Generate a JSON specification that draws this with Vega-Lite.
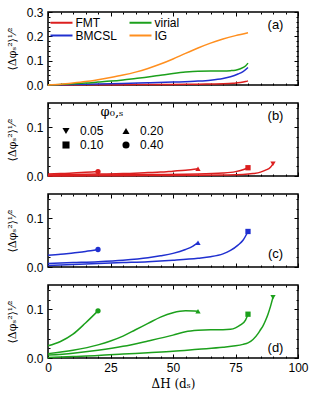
{
  "$schema": "https://vega.github.io/schema/vega-lite/v6.json",
  "padding": 5,
  "spacing": 9,
  "datasets": {
    "a": [
      {"m":"FMT","x":0,"y":0},{"m":"FMT","x":10,"y":0.0005},{"m":"FMT","x":20,"y":0.001},{"m":"FMT","x":30,"y":0.0015},{"m":"FMT","x":40,"y":0.002},{"m":"FMT","x":50,"y":0.0025},{"m":"FMT","x":60,"y":0.003},{"m":"FMT","x":65,"y":0.004},{"m":"FMT","x":70,"y":0.005},{"m":"FMT","x":74,"y":0.007},{"m":"FMT","x":77,"y":0.010},{"m":"FMT","x":79,"y":0.014},{"m":"FMT","x":80,"y":0.017},
      {"m":"BMCSL","x":0,"y":0},{"m":"BMCSL","x":10,"y":0.002},{"m":"BMCSL","x":20,"y":0.004},{"m":"BMCSL","x":30,"y":0.006},{"m":"BMCSL","x":40,"y":0.009},{"m":"BMCSL","x":50,"y":0.012},{"m":"BMCSL","x":60,"y":0.016},{"m":"BMCSL","x":65,"y":0.020},{"m":"BMCSL","x":70,"y":0.027},{"m":"BMCSL","x":73,"y":0.034},{"m":"BMCSL","x":76,"y":0.045},{"m":"BMCSL","x":78,"y":0.055},{"m":"BMCSL","x":80,"y":0.072},
      {"m":"virial","x":0,"y":0.001},{"m":"virial","x":5,"y":0.002},{"m":"virial","x":10,"y":0.005},{"m":"virial","x":15,"y":0.008},{"m":"virial","x":20,"y":0.012},{"m":"virial","x":25,"y":0.016},{"m":"virial","x":30,"y":0.021},{"m":"virial","x":35,"y":0.027},{"m":"virial","x":40,"y":0.033},{"m":"virial","x":45,"y":0.040},{"m":"virial","x":50,"y":0.047},{"m":"virial","x":55,"y":0.053},{"m":"virial","x":60,"y":0.057},{"m":"virial","x":65,"y":0.058},{"m":"virial","x":70,"y":0.058},{"m":"virial","x":73,"y":0.059},{"m":"virial","x":75,"y":0.061},{"m":"virial","x":77,"y":0.067},{"m":"virial","x":79,"y":0.078},{"m":"virial","x":80,"y":0.09},
      {"m":"IG","x":0,"y":0},{"m":"IG","x":5,"y":0.003},{"m":"IG","x":10,"y":0.008},{"m":"IG","x":15,"y":0.014},{"m":"IG","x":20,"y":0.022},{"m":"IG","x":25,"y":0.031},{"m":"IG","x":30,"y":0.041},{"m":"IG","x":35,"y":0.053},{"m":"IG","x":40,"y":0.068},{"m":"IG","x":45,"y":0.086},{"m":"IG","x":50,"y":0.107},{"m":"IG","x":55,"y":0.130},{"m":"IG","x":60,"y":0.152},{"m":"IG","x":65,"y":0.172},{"m":"IG","x":70,"y":0.189},{"m":"IG","x":75,"y":0.203},{"m":"IG","x":80,"y":0.215}
    ],
    "b": [
      {"m":"FMT","phi":"0.40","x":0,"y":0.004},{"m":"FMT","phi":"0.40","x":5,"y":0.005},{"m":"FMT","phi":"0.40","x":10,"y":0.006},{"m":"FMT","phi":"0.40","x":15,"y":0.0075},{"m":"FMT","phi":"0.40","x":20,"y":0.009},
      {"m":"FMT","phi":"0.20","x":0,"y":0.002},{"m":"FMT","phi":"0.20","x":10,"y":0.003},{"m":"FMT","phi":"0.20","x":20,"y":0.004},{"m":"FMT","phi":"0.20","x":30,"y":0.005},{"m":"FMT","phi":"0.20","x":40,"y":0.007},{"m":"FMT","phi":"0.20","x":45,"y":0.008},{"m":"FMT","phi":"0.20","x":50,"y":0.010},{"m":"FMT","phi":"0.20","x":55,"y":0.012},{"m":"FMT","phi":"0.20","x":60,"y":0.015},
      {"m":"FMT","phi":"0.10","x":0,"y":0.001},{"m":"FMT","phi":"0.10","x":20,"y":0.002},{"m":"FMT","phi":"0.10","x":40,"y":0.003},{"m":"FMT","phi":"0.10","x":60,"y":0.004},{"m":"FMT","phi":"0.10","x":70,"y":0.006},{"m":"FMT","phi":"0.10","x":75,"y":0.009},{"m":"FMT","phi":"0.10","x":78,"y":0.013},{"m":"FMT","phi":"0.10","x":80,"y":0.017},
      {"m":"FMT","phi":"0.05","x":0,"y":0},{"m":"FMT","phi":"0.05","x":20,"y":0.0005},{"m":"FMT","phi":"0.05","x":40,"y":0.001},{"m":"FMT","phi":"0.05","x":60,"y":0.0015},{"m":"FMT","phi":"0.05","x":70,"y":0.002},{"m":"FMT","phi":"0.05","x":78,"y":0.003},{"m":"FMT","phi":"0.05","x":82,"y":0.005},{"m":"FMT","phi":"0.05","x":85,"y":0.008},{"m":"FMT","phi":"0.05","x":87,"y":0.012},{"m":"FMT","phi":"0.05","x":89,"y":0.018},{"m":"FMT","phi":"0.05","x":90,"y":0.025}
    ],
    "c": [
      {"m":"BMCSL","phi":"0.40","x":0,"y":0.024},{"m":"BMCSL","phi":"0.40","x":5,"y":0.026},{"m":"BMCSL","phi":"0.40","x":10,"y":0.029},{"m":"BMCSL","phi":"0.40","x":15,"y":0.032},{"m":"BMCSL","phi":"0.40","x":20,"y":0.036},
      {"m":"BMCSL","phi":"0.20","x":0,"y":0.007},{"m":"BMCSL","phi":"0.20","x":10,"y":0.009},{"m":"BMCSL","phi":"0.20","x":20,"y":0.011},{"m":"BMCSL","phi":"0.20","x":30,"y":0.014},{"m":"BMCSL","phi":"0.20","x":40,"y":0.019},{"m":"BMCSL","phi":"0.20","x":45,"y":0.023},{"m":"BMCSL","phi":"0.20","x":50,"y":0.028},{"m":"BMCSL","phi":"0.20","x":55,"y":0.036},{"m":"BMCSL","phi":"0.20","x":58,"y":0.043},{"m":"BMCSL","phi":"0.20","x":60,"y":0.050},
      {"m":"BMCSL","phi":"0.10","x":0,"y":0.003},{"m":"BMCSL","phi":"0.10","x":10,"y":0.005},{"m":"BMCSL","phi":"0.10","x":20,"y":0.007},{"m":"BMCSL","phi":"0.10","x":30,"y":0.009},{"m":"BMCSL","phi":"0.10","x":40,"y":0.011},{"m":"BMCSL","phi":"0.10","x":50,"y":0.014},{"m":"BMCSL","phi":"0.10","x":60,"y":0.018},{"m":"BMCSL","phi":"0.10","x":65,"y":0.021},{"m":"BMCSL","phi":"0.10","x":70,"y":0.027},{"m":"BMCSL","phi":"0.10","x":73,"y":0.034},{"m":"BMCSL","phi":"0.10","x":76,"y":0.045},{"m":"BMCSL","phi":"0.10","x":78,"y":0.055},{"m":"BMCSL","phi":"0.10","x":80,"y":0.073}
    ],
    "d": [
      {"m":"virial","phi":"0.40","x":0,"y":0.025},{"m":"virial","phi":"0.40","x":5,"y":0.034},{"m":"virial","phi":"0.40","x":10,"y":0.049},{"m":"virial","phi":"0.40","x":15,"y":0.072},{"m":"virial","phi":"0.40","x":20,"y":0.097},
      {"m":"virial","phi":"0.20","x":0,"y":0.009},{"m":"virial","phi":"0.20","x":10,"y":0.016},{"m":"virial","phi":"0.20","x":20,"y":0.027},{"m":"virial","phi":"0.20","x":25,"y":0.035},{"m":"virial","phi":"0.20","x":30,"y":0.045},{"m":"virial","phi":"0.20","x":35,"y":0.058},{"m":"virial","phi":"0.20","x":40,"y":0.071},{"m":"virial","phi":"0.20","x":45,"y":0.084},{"m":"virial","phi":"0.20","x":50,"y":0.093},{"m":"virial","phi":"0.20","x":55,"y":0.097},{"m":"virial","phi":"0.20","x":60,"y":0.096},
      {"m":"virial","phi":"0.10","x":0,"y":0.006},{"m":"virial","phi":"0.10","x":10,"y":0.010},{"m":"virial","phi":"0.10","x":20,"y":0.016},{"m":"virial","phi":"0.10","x":30,"y":0.024},{"m":"virial","phi":"0.10","x":40,"y":0.035},{"m":"virial","phi":"0.10","x":50,"y":0.047},{"m":"virial","phi":"0.10","x":55,"y":0.054},{"m":"virial","phi":"0.10","x":60,"y":0.057},{"m":"virial","phi":"0.10","x":65,"y":0.058},{"m":"virial","phi":"0.10","x":70,"y":0.058},{"m":"virial","phi":"0.10","x":73,"y":0.059},{"m":"virial","phi":"0.10","x":75,"y":0.062},{"m":"virial","phi":"0.10","x":77,"y":0.068},{"m":"virial","phi":"0.10","x":79,"y":0.078},{"m":"virial","phi":"0.10","x":80,"y":0.090},
      {"m":"virial","phi":"0.05","x":0,"y":0.001},{"m":"virial","phi":"0.05","x":10,"y":0.003},{"m":"virial","phi":"0.05","x":20,"y":0.005},{"m":"virial","phi":"0.05","x":30,"y":0.008},{"m":"virial","phi":"0.05","x":40,"y":0.011},{"m":"virial","phi":"0.05","x":50,"y":0.014},{"m":"virial","phi":"0.05","x":60,"y":0.018},{"m":"virial","phi":"0.05","x":70,"y":0.022},{"m":"virial","phi":"0.05","x":75,"y":0.025},{"m":"virial","phi":"0.05","x":78,"y":0.028},{"m":"virial","phi":"0.05","x":80,"y":0.031},{"m":"virial","phi":"0.05","x":82,"y":0.038},{"m":"virial","phi":"0.05","x":84,"y":0.050},{"m":"virial","phi":"0.05","x":85,"y":0.058},{"m":"virial","phi":"0.05","x":86,"y":0.066},{"m":"virial","phi":"0.05","x":87,"y":0.077},{"m":"virial","phi":"0.05","x":88,"y":0.090},{"m":"virial","phi":"0.05","x":89,"y":0.106},{"m":"virial","phi":"0.05","x":90,"y":0.125}
    ]
  },
  "vconcat": [
    {
      "width": 250, "height": 73,
      "data": {"name": "a"},
      "layer": [
        {
          "mark": {"type": "line", "strokeWidth": 1.5, "interpolate": "monotone"},
          "encoding": {
            "x": {"field": "x", "type": "quantitative", "scale": {"domain": [0, 100], "nice": false}, "axis": {"orient": "bottom", "values": [0, 25, 50, 75, 100], "tickSize": -4, "labels": false, "title": null}},
            "y": {"field": "y", "type": "quantitative", "scale": {"domain": [0, 0.3], "nice": false}, "axis": {"orient": "left", "values": [0, 0.1, 0.2, 0.3], "tickSize": -4, "labelPadding": 9, "format": ".1f", "labelFlush": false, "title": "⟨Δφₛ²⟩¹⁄²", "titlePadding": 9}},
            "color": {"field": "m", "type": "nominal", "scale": {"domain": ["FMT", "BMCSL", "virial", "IG"], "range": ["#dc1f1f", "#2030d0", "#1ca01c", "#ff8f1f"]},
              "legend": {"orient": "none", "legendX": 7, "legendY": 4, "columns": 2, "title": null, "symbolType": "M-2,0H2", "symbolSize": 121, "symbolStrokeWidth": 2, "labelFontSize": 12, "labelFont": "Liberation Sans", "labelOffset": 7.5, "rowPadding": 0, "columnPadding": 8}}
          }
        },
        {
          "mark": {"type": "point", "opacity": 0},
          "encoding": {
            "x": {"field": "x", "type": "quantitative", "axis": {"orient": "bottom", "values": [5,10,15,20,30,35,40,45,55,60,65,70,80,85,90,95], "tickSize": -2, "labels": false, "title": null}},
            "y": {"field": "y", "type": "quantitative", "axis": {"orient": "left", "values": [0.02,0.04,0.06,0.08,0.12,0.14,0.16,0.18,0.22,0.24,0.26,0.28], "tickSize": -2, "labels": false, "title": null}}
          }
        },
        {
          "mark": {"type": "point", "opacity": 0},
          "encoding": {
            "x": {"field": "x", "type": "quantitative", "axis": {"orient": "top", "values": [0, 25, 50, 75, 100], "tickSize": -4, "labels": false, "title": null}},
            "y": {"field": "y", "type": "quantitative", "axis": {"orient": "right", "values": [0, 0.1, 0.2, 0.3], "tickSize": -4, "labels": false, "title": null}}
          }
        },
        {
          "mark": {"type": "point", "opacity": 0},
          "encoding": {
            "x": {"field": "x", "type": "quantitative", "axis": {"orient": "top", "values": [5,10,15,20,30,35,40,45,55,60,65,70,80,85,90,95], "tickSize": -2, "labels": false, "title": null}},
            "y": {"field": "y", "type": "quantitative", "axis": {"orient": "right", "values": [0.02,0.04,0.06,0.08,0.12,0.14,0.16,0.18,0.22,0.24,0.26,0.28], "tickSize": -2, "labels": false, "title": null}}
          }
        },
        {
          "data": {"values": [{}]},
          "mark": {"type": "text", "text": "(a)", "font": "Liberation Sans", "fontSize": 13, "color": "black"},
          "encoding": {
            "x": {"datum": 91, "type": "quantitative", "axis": null},
            "y": {"datum": 0.246, "type": "quantitative", "axis": null}
          }
        }
      ],
      "resolve": {"axis": {"x": "independent", "y": "independent"}}
    },
    {
      "width": 250, "height": 73,
      "data": {"name": "b"},
      "layer": [
        {
          "mark": {"type": "line", "strokeWidth": 1.5, "interpolate": "monotone"},
          "encoding": {
            "x": {"field": "x", "type": "quantitative", "scale": {"domain": [0, 100], "nice": false}, "axis": {"orient": "bottom", "values": [0, 25, 50, 75, 100], "tickSize": -4, "labels": false, "title": null}},
            "y": {"field": "y", "type": "quantitative", "scale": {"domain": [0, 0.15], "nice": false}, "axis": {"orient": "left", "values": [0, 0.1], "tickSize": -4, "labelPadding": 9, "format": ".1f", "labelFlush": false, "title": "⟨Δφₛ²⟩¹⁄²", "titlePadding": 9}},
            "color": {"field": "m", "type": "nominal", "scale": {"range": ["#dc1f1f"]}, "legend": null},
            "detail": {"field": "phi"}
          }
        },
        {
          "transform": [{"joinaggregate": [{"op": "max", "field": "x", "as": "xmax"}], "groupby": ["phi"]}, {"filter": "datum.x === datum.xmax"}],
          "mark": {"type": "point", "filled": true, "opacity": 1, "size": 28},
          "encoding": {
            "x": {"field": "x", "type": "quantitative", "axis": {"orient": "top", "values": [0, 25, 50, 75, 100], "tickSize": -4, "labels": false, "title": null}},
            "y": {"field": "y", "type": "quantitative", "axis": {"orient": "right", "values": [0, 0.1], "tickSize": -4, "labels": false, "title": null}},
            "color": {"field": "m", "type": "nominal", "legend": null},
            "shape": {"field": "phi", "type": "nominal", "scale": {"domain": ["0.05", "0.10", "0.20", "0.40"], "range": ["triangle-down", "square", "triangle-up", "circle"]},
              "legend": {"orient": "none", "legendX": 12, "legendY": 94, "columns": 2, "title": "φ₀,ₛ", "titleFont": "DejaVu Serif", "titleFontSize": 13, "titleFontWeight": "normal", "titleColor": "black", "titleAnchor": "middle", "titlePadding": 6, "symbolSize": 50, "symbolFillColor": "black", "symbolStrokeWidth": 0, "labelFontSize": 12, "labelFont": "Liberation Sans", "labelOffset": 8, "rowPadding": 2, "columnPadding": 16}}
          }
        },
        {
          "mark": {"type": "point", "opacity": 0},
          "encoding": {
            "x": {"field": "x", "type": "quantitative", "axis": {"orient": "bottom", "values": [5,10,15,20,30,35,40,45,55,60,65,70,80,85,90,95], "tickSize": -2, "labels": false, "title": null}},
            "y": {"field": "y", "type": "quantitative", "axis": {"orient": "left", "values": [0.02,0.04,0.06,0.08,0.12,0.14], "tickSize": -2, "labels": false, "title": null}}
          }
        },
        {
          "mark": {"type": "point", "opacity": 0},
          "encoding": {
            "x": {"field": "x", "type": "quantitative", "axis": {"orient": "top", "values": [5,10,15,20,30,35,40,45,55,60,65,70,80,85,90,95], "tickSize": -2, "labels": false, "title": null}},
            "y": {"field": "y", "type": "quantitative", "axis": {"orient": "right", "values": [0.02,0.04,0.06,0.08,0.12,0.14], "tickSize": -2, "labels": false, "title": null}}
          }
        },
        {
          "data": {"values": [{}]},
          "mark": {"type": "text", "text": "(b)", "font": "Liberation Sans", "fontSize": 13, "color": "black"},
          "encoding": {
            "x": {"datum": 91, "type": "quantitative", "axis": null},
            "y": {"datum": 0.124, "type": "quantitative", "axis": null}
          }
        }
      ],
      "resolve": {"axis": {"x": "independent", "y": "independent"}}
    },
    {
      "width": 250, "height": 73,
      "data": {"name": "c"},
      "layer": [
        {
          "mark": {"type": "line", "strokeWidth": 1.5, "interpolate": "monotone"},
          "encoding": {
            "x": {"field": "x", "type": "quantitative", "scale": {"domain": [0, 100], "nice": false}, "axis": {"orient": "bottom", "values": [0, 25, 50, 75, 100], "tickSize": -4, "labels": false, "title": null}},
            "y": {"field": "y", "type": "quantitative", "scale": {"domain": [0, 0.15], "nice": false}, "axis": {"orient": "left", "values": [0, 0.1], "tickSize": -4, "labelPadding": 9, "format": ".1f", "labelFlush": false, "title": "⟨Δφₛ²⟩¹⁄²", "titlePadding": 9}},
            "color": {"field": "m", "type": "nominal", "scale": {"range": ["#2030d0"]}, "legend": null},
            "detail": {"field": "phi"}
          }
        },
        {
          "transform": [{"joinaggregate": [{"op": "max", "field": "x", "as": "xmax"}], "groupby": ["phi"]}, {"filter": "datum.x === datum.xmax"}],
          "mark": {"type": "point", "filled": true, "opacity": 1, "size": 28},
          "encoding": {
            "x": {"field": "x", "type": "quantitative", "axis": {"orient": "top", "values": [0, 25, 50, 75, 100], "tickSize": -4, "labels": false, "title": null}},
            "y": {"field": "y", "type": "quantitative", "axis": {"orient": "right", "values": [0, 0.1], "tickSize": -4, "labels": false, "title": null}},
            "color": {"field": "m", "type": "nominal", "legend": null},
            "shape": {"field": "phi", "type": "nominal", "scale": {"domain": ["0.05", "0.10", "0.20", "0.40"], "range": ["triangle-down", "square", "triangle-up", "circle"]}, "legend": null}
          }
        },
        {
          "mark": {"type": "point", "opacity": 0},
          "encoding": {
            "x": {"field": "x", "type": "quantitative", "axis": {"orient": "bottom", "values": [5,10,15,20,30,35,40,45,55,60,65,70,80,85,90,95], "tickSize": -2, "labels": false, "title": null}},
            "y": {"field": "y", "type": "quantitative", "axis": {"orient": "left", "values": [0.02,0.04,0.06,0.08,0.12,0.14], "tickSize": -2, "labels": false, "title": null}}
          }
        },
        {
          "mark": {"type": "point", "opacity": 0},
          "encoding": {
            "x": {"field": "x", "type": "quantitative", "axis": {"orient": "top", "values": [5,10,15,20,30,35,40,45,55,60,65,70,80,85,90,95], "tickSize": -2, "labels": false, "title": null}},
            "y": {"field": "y", "type": "quantitative", "axis": {"orient": "right", "values": [0.02,0.04,0.06,0.08,0.12,0.14], "tickSize": -2, "labels": false, "title": null}}
          }
        },
        {
          "data": {"values": [{}]},
          "mark": {"type": "text", "text": "(c)", "font": "Liberation Sans", "fontSize": 13, "color": "black"},
          "encoding": {
            "x": {"datum": 91, "type": "quantitative", "axis": null},
            "y": {"datum": 0.027, "type": "quantitative", "axis": null}
          }
        }
      ],
      "resolve": {"axis": {"x": "independent", "y": "independent"}}
    },
    {
      "width": 250, "height": 73,
      "data": {"name": "d"},
      "layer": [
        {
          "mark": {"type": "line", "strokeWidth": 1.5, "interpolate": "monotone"},
          "encoding": {
            "x": {"field": "x", "type": "quantitative", "scale": {"domain": [0, 100], "nice": false}, "axis": {"orient": "bottom", "values": [0, 25, 50, 75, 100], "tickSize": -4, "labelPadding": 8, "labelFlush": false, "title": "ΔH (dₛ)", "titleFont": "DejaVu Serif", "titleFontSize": 12, "titlePadding": 5}},
            "y": {"field": "y", "type": "quantitative", "scale": {"domain": [0, 0.15], "nice": false}, "axis": {"orient": "left", "values": [0, 0.1], "tickSize": -4, "labelPadding": 9, "format": ".1f", "labelFlush": false, "title": "⟨Δφₛ²⟩¹⁄²", "titlePadding": 9}},
            "color": {"field": "m", "type": "nominal", "scale": {"range": ["#1ca01c"]}, "legend": null},
            "detail": {"field": "phi"}
          }
        },
        {
          "transform": [{"joinaggregate": [{"op": "max", "field": "x", "as": "xmax"}], "groupby": ["phi"]}, {"filter": "datum.x === datum.xmax"}],
          "mark": {"type": "point", "filled": true, "opacity": 1, "size": 28},
          "encoding": {
            "x": {"field": "x", "type": "quantitative", "axis": {"orient": "top", "values": [0, 25, 50, 75, 100], "tickSize": -4, "labels": false, "title": null}},
            "y": {"field": "y", "type": "quantitative", "axis": {"orient": "right", "values": [0, 0.1], "tickSize": -4, "labels": false, "title": null}},
            "color": {"field": "m", "type": "nominal", "legend": null},
            "shape": {"field": "phi", "type": "nominal", "scale": {"domain": ["0.05", "0.10", "0.20", "0.40"], "range": ["triangle-down", "square", "triangle-up", "circle"]}, "legend": null}
          }
        },
        {
          "mark": {"type": "point", "opacity": 0},
          "encoding": {
            "x": {"field": "x", "type": "quantitative", "axis": {"orient": "bottom", "values": [5,10,15,20,30,35,40,45,55,60,65,70,80,85,90,95], "tickSize": -2, "labels": false, "title": null}},
            "y": {"field": "y", "type": "quantitative", "axis": {"orient": "left", "values": [0.02,0.04,0.06,0.08,0.12,0.14], "tickSize": -2, "labels": false, "title": null}}
          }
        },
        {
          "mark": {"type": "point", "opacity": 0},
          "encoding": {
            "x": {"field": "x", "type": "quantitative", "axis": {"orient": "top", "values": [5,10,15,20,30,35,40,45,55,60,65,70,80,85,90,95], "tickSize": -2, "labels": false, "title": null}},
            "y": {"field": "y", "type": "quantitative", "axis": {"orient": "right", "values": [0.02,0.04,0.06,0.08,0.12,0.14], "tickSize": -2, "labels": false, "title": null}}
          }
        },
        {
          "data": {"values": [{}]},
          "mark": {"type": "text", "text": "(d)", "font": "Liberation Sans", "fontSize": 13, "color": "black"},
          "encoding": {
            "x": {"datum": 91, "type": "quantitative", "axis": null},
            "y": {"datum": 0.021, "type": "quantitative", "axis": null}
          }
        }
      ],
      "resolve": {"axis": {"x": "independent", "y": "independent"}}
    }
  ],
  "config": {
    "view": {"stroke": "black", "strokeWidth": 1.5},
    "axis": {"grid": false, "domain": false, "tickColor": "black", "tickWidth": 1, "labelFont": "Liberation Sans", "labelFontSize": 12, "labelColor": "black", "titleFont": "DejaVu Serif", "titleFontWeight": "normal", "titleFontSize": 11, "titleColor": "black"},
    "legend": {"labelColor": "black"}
  }
}
